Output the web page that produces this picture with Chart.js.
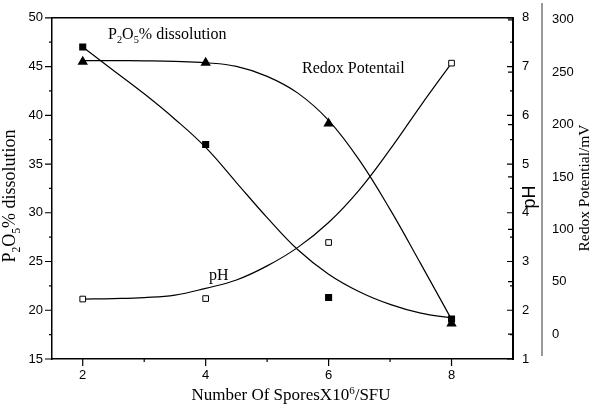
<!DOCTYPE html>
<html>
<head>
<meta charset="utf-8">
<script src="https://cdn.jsdelivr.net/npm/chart.js@4"></script>
<style>
html, body { margin: 0; padding: 0; background: #fff; }
</style>
</head>
<body>
<canvas id="sporeChart" width="596" height="412"></canvas>
<script>
const spores = [2, 4, 6, 8];
const p2o5Dissolution = [47, 37, 21.3, 19.1];
const phValues = [2.23, 2.24, 3.39, 7.07];
const redoxValues = [260, 259, 201, 10];

// fitted curves, every half step
const fitSpores = [2, 2.5, 3, 3.5, 4, 4.5, 5, 5.5, 6, 6.5, 7, 7.5, 8];
const p2o5Fit = [47, 44.6, 42.2, 39.6, 36.7, 33.1, 29.5, 26.2, 23.7, 21.9, 20.6, 19.7, 19.2];
const phFit = [2.23, 2.24, 2.26, 2.31, 2.45, 2.62, 2.91, 3.29, 3.8, 4.47, 5.3, 6.2, 7.07];
const redoxFit = [261, 261, 260.8, 260.3, 259, 255.5, 246, 230, 204, 166, 119, 67, 14];

const xTicks = [2, 4, 6, 8];
const leftTicks = [15, 20, 25, 30, 35, 40, 45, 50];
const phTicks = [1, 2, 3, 4, 5, 6, 7, 8];
const redoxTicks = [0, 50, 100, 150, 200, 250, 300];

const SERIF = '"Liberation Serif", "Times New Roman", serif';
const SANS = '"Liberation Sans", Arial, sans-serif';

function pairs(xs, ys) {
	return xs.map((x, i) => ({ x: x, y: ys[i] }));
}

function setTicks(values) {
	return scale => { scale.ticks = values.map(v => ({ value: v })); };
}

// text with sub/superscript parts: [['P'], ['2', 'sub'], ...]
function richWidth(ctx, parts, size) {
	let w = 0;
	parts.forEach(p => {
		ctx.font = (p[1] ? size * 0.65 : size) + 'px ' + SERIF;
		w += ctx.measureText(p[0]).width;
	});
	return w;
}

function drawRich(ctx, parts, x, y, size, center) {
	let cx = center ? x - richWidth(ctx, parts, size) / 2 : x;
	ctx.textBaseline = 'alphabetic';
	ctx.textAlign = 'left';
	parts.forEach(p => {
		let dy = 0;
		if (p[1] === 'sub') dy = size * 0.28;
		if (p[1] === 'sup') dy = -size * 0.38;
		ctx.font = (p[1] ? size * 0.65 : size) + 'px ' + SERIF;
		ctx.fillText(p[0], cx, y + dy);
		cx += ctx.measureText(p[0]).width;
	});
}

const p2o5Label = [['P'], ['2', 'sub'], ['O'], ['5', 'sub'], ['% dissolution']];

const decorPlugin = {
	id: 'decor',
	afterDraw(chart) {
		const ctx = chart.ctx;
		const a = chart.chartArea;
		const sx = chart.scales.x, sy = chart.scales.y, sp = chart.scales.yPH, sr = chart.scales.yRedox;
		ctx.save();
		ctx.strokeStyle = '#000';
		ctx.lineWidth = 1.5;
		ctx.beginPath();
		ctx.moveTo(a.left, a.top);
		ctx.lineTo(a.right, a.top);
		ctx.stroke();

		ctx.lineWidth = 1.2;
		ctx.beginPath();
		for (let v = 2; v <= 8; v++) {
			const px = sx.getPixelForValue(v);
			ctx.moveTo(px, a.bottom);
			ctx.lineTo(px, a.bottom + (v % 2 === 0 ? 7 : 3));
		}
		for (let v = 15; v <= 50; v += 2.5) {
			const py = sy.getPixelForValue(v);
			ctx.moveTo(a.left, py);
			ctx.lineTo(a.left - (v % 5 === 0 ? 7 : 3), py);
		}
		for (let v = 1; v <= 8; v += 0.5) {
			const py = sp.getPixelForValue(v);
			ctx.moveTo(a.right, py);
			ctx.lineTo(a.right - (v % 1 === 0 ? 6 : 3), py);
		}
		redoxTicks.forEach(v => {
			const py = sr.getPixelForValue(v);
			ctx.moveTo(a.right, py);
			ctx.lineTo(a.right - 5, py);
		});
		ctx.stroke();

		// third axis line sits apart from the frame
		ctx.strokeStyle = '#777';
		ctx.lineWidth = 1.5;
		ctx.beginPath();
		ctx.moveTo(sr.left, 3);
		ctx.lineTo(sr.left, 356);
		ctx.stroke();

		ctx.fillStyle = '#000';
		drawRich(ctx, p2o5Label, 108, 39, 16, false);
		drawRich(ctx, [['Redox Potentail']], 302, 73, 16, false);
		drawRich(ctx, [['pH']], 209, 280, 16, false);
		drawRich(ctx, [['Number Of SporesX10'], ['6', 'sup'], ['/SFU']], 291, 400, 17, true);

		ctx.save();
		ctx.translate(15, 196);
		ctx.rotate(-Math.PI / 2);
		drawRich(ctx, p2o5Label, 0, 0, 18, true);
		ctx.restore();

		ctx.save();
		ctx.translate(589, 188);
		ctx.rotate(-Math.PI / 2);
		drawRich(ctx, [['Redox Potential/mV']], 0, 0, 15.5, true);
		ctx.restore();

		ctx.save();
		ctx.translate(535, 197);
		ctx.rotate(-Math.PI / 2);
		ctx.font = '18px ' + SANS;
		ctx.textAlign = 'center';
		ctx.textBaseline = 'alphabetic';
		ctx.fillText('pH', 0, 0);
		ctx.restore();

		ctx.restore();
	}
};

const tickFont = { family: SANS, size: 13 };

function fitLine(ys, axis) {
	return {
		data: pairs(fitSpores, ys),
		yAxisID: axis,
		showLine: true,
		pointRadius: 0,
		borderColor: '#000',
		borderWidth: 1.2,
		tension: 0.4
	};
}

new Chart(document.getElementById('sporeChart'), {
	type: 'scatter',
	data: {
		datasets: [
			{
				data: pairs(spores, p2o5Dissolution),
				yAxisID: 'y',
				pointStyle: 'rect',
				pointRadius: 5,
				backgroundColor: '#000',
				borderColor: '#000',
				borderWidth: 0
			},
			{
				data: pairs(spores, redoxValues),
				yAxisID: 'yRedox',
				pointStyle: 'triangle',
				pointRadius: 6,
				backgroundColor: '#000',
				borderColor: '#000',
				borderWidth: 0
			},
			{
				data: pairs(spores, phValues),
				yAxisID: 'yPH',
				pointStyle: 'rect',
				pointRadius: 4,
				backgroundColor: '#fff',
				borderColor: '#000',
				borderWidth: 1
			},
			fitLine(p2o5Fit, 'y'),
			fitLine(redoxFit, 'yRedox'),
			fitLine(phFit, 'yPH')
		]
	},
	options: {
		responsive: false,
		animation: false,
		devicePixelRatio: 1,
		layout: { padding: { top: 17, left: 0, right: 0, bottom: 0 } },
		plugins: { legend: { display: false }, tooltip: { enabled: false } },
		scales: {
			x: {
				type: 'linear',
				min: 1.5,
				max: 9,
				afterBuildTicks: setTicks(xTicks),
				afterFit: scale => { scale.height = 53; },
				grid: { display: false, drawTicks: false },
				border: { display: true, color: '#000', width: 1.5 },
				ticks: { font: tickFont, color: '#000', padding: 9, maxRotation: 0 }
			},
			y: {
				position: 'left',
				min: 15,
				max: 50,
				afterBuildTicks: setTicks(leftTicks),
				afterFit: scale => { scale.width = 52; },
				grid: { display: false, drawTicks: false },
				border: { display: true, color: '#000', width: 1.5 },
				ticks: { font: tickFont, color: '#000', padding: 9 }
			},
			yPH: {
				position: 'right',
				min: 1,
				max: 8,
				afterBuildTicks: setTicks(phTicks),
				afterFit: scale => { scale.width = 29; },
				grid: { display: false, drawTicks: false },
				border: { display: true, color: '#000', width: 2 },
				ticks: { font: tickFont, color: '#000', padding: 9 }
			},
			yRedox: {
				position: 'right',
				min: -23.8,
				max: 301.9,
				afterBuildTicks: setTicks(redoxTicks),
				afterFit: scale => { scale.width = 54; },
				grid: { display: false, drawTicks: false },
				border: { display: false },
				ticks: { font: tickFont, color: '#000', padding: 10 }
			}
		}
	},
	plugins: [decorPlugin]
});
</script>
</body>
</html>
